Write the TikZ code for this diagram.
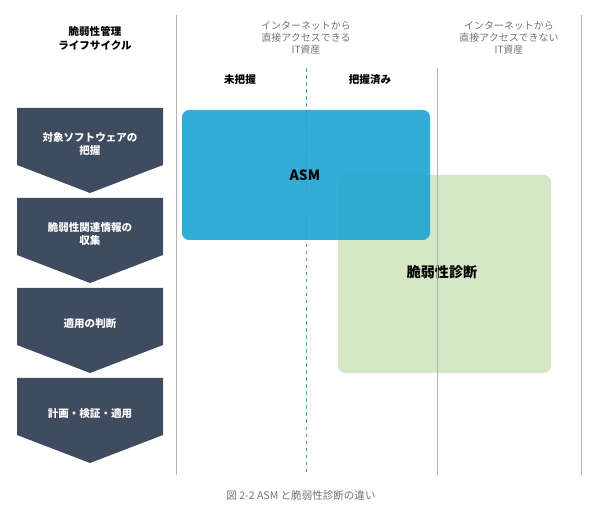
\documentclass[tikz,border=0pt]{standalone}
\usepackage{fontspec}
\setmainfont{Noto Sans CJK JP}
\usetikzlibrary{positioning}
\definecolor{slate}{HTML}{3F4B5F}
\definecolor{asmblue}{HTML}{22A5D5}
\definecolor{diaggreen}{HTML}{D5E8C6}
\begin{document}
\begin{tikzpicture}[x=0.03cm, y=-0.03cm,
  stage/.style={fill=slate, draw=none},
  stagetext/.style={text=white, font=\bfseries\fontsize{9}{11}\selectfont, align=center},
  head/.style={text=gray!90!black, font=\fontsize{8.5}{10}\selectfont, align=center},
  col/.style={font=\bfseries\fontsize{9}{11}\selectfont},
  rule/.style={gray!60, line width=0.6pt}]
  \useasboundingbox (0,0) rectangle (603,517);

  % area backgrounds
  \fill[diaggreen, rounded corners=6pt] (338,175) rectangle (551,373);
  \fill[asmblue, opacity=0.92, rounded corners=6pt] (182,110) rectangle (430,240);
  \node[font=\bfseries\fontsize{12}{14}\selectfont] (asm) at (305,175) {ASM};
  \node[font=\bfseries\fontsize{12}{14}\selectfont] (diag) at (442,272) {脆弱性診断};

  % column rules
  \draw[rule] (176,15) -- (176,475);
  \draw[rule] (437,68) -- (437,475);
  \draw[rule] (581,15) -- (581,475);
  \draw[asmblue!70!gray, dashed, line width=0.6pt] (306,68) -- (306,475);

  % headings
  \node[font=\bfseries\fontsize{9}{12}\selectfont, align=center] (life) at (95,38) {脆弱性管理\\ライフサイクル};
  \node[head] (direct) at (306,38) {インターネットから\\直接アクセスできる\\IT資産};
  \node[head] (indirect) at (509,38) {インターネットから\\直接アクセスできない\\IT資産};
  \node[col] (unknown) at (240,80) {未把握};
  \node[col] (known) at (370,80) {把握済み};

  % lifecycle stages
  \foreach \top/\txt [count=\i] in {108/{対象ソフトウェアの\\把握}, 198/{脆弱性関連情報の\\収集}, 288/{適用の判断}, 378/{計画・検証・適用}}{
    \fill[stage] (17,\top) -- (163,\top) -- (163,\top+57) -- (90,\top+85) -- (17,\top+57) -- cycle;
    \node[stagetext] (stage\i) at (90,\top+36) {\txt};
  }

  % caption
  \node[font=\fontsize{9}{11}\selectfont, text=gray!90!black] (caption) at (301,495) {図 2-2 ASM と脆弱性診断の違い};
\end{tikzpicture}
\end{document}
